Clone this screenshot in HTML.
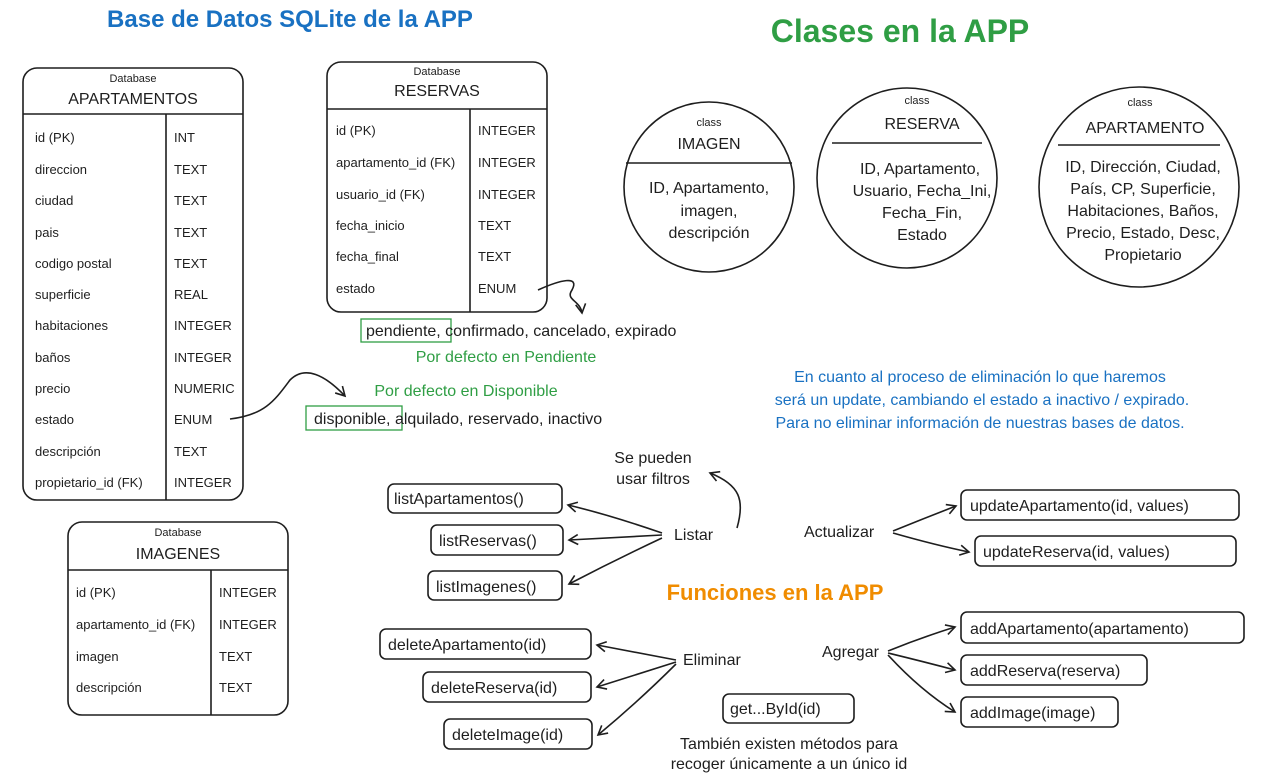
<!DOCTYPE html>
<html><head><meta charset="utf-8"><style>
html,body{margin:0;padding:0;background:#fff;}
svg{display:block;font-family:"Liberation Sans","DejaVu Sans",sans-serif;}
.t{font-size:13px;fill:#1e1e1e;}
.m{font-size:16px;fill:#1e1e1e;}
.s{font-size:11px;fill:#1e1e1e;}
.b{fill:none;stroke:#1e1e1e;stroke-width:1.6;}
</style></head><body>
<svg width="1280" height="775" viewBox="0 0 1280 775" xmlns="http://www.w3.org/2000/svg">
<defs><marker id="a" markerWidth="12" markerHeight="12" refX="10" refY="6" orient="auto" markerUnits="userSpaceOnUse"><path d="M1,1 L10,6 L1,11" fill="none" stroke="#1e1e1e" stroke-width="1.6"/></marker></defs>

<text x="290" y="27" text-anchor="middle" font-size="24" font-weight="bold" fill="#1971c2">Base de Datos SQLite de la APP</text>
<text x="900" y="42" text-anchor="middle" font-size="32" font-weight="bold" fill="#2f9e44">Clases en la APP</text>
<text x="775" y="600" text-anchor="middle" font-size="22" font-weight="bold" fill="#f08c00">Funciones en la APP</text>

<!-- APARTAMENTOS -->
<rect class="b" x="23" y="68" width="220" height="432" rx="14"/>
<line class="b" x1="23" y1="114" x2="243" y2="114"/>
<line class="b" x1="166" y1="114" x2="166" y2="500"/>
<text class="s" x="133" y="82" text-anchor="middle">Database</text>
<text class="m" x="133" y="104" text-anchor="middle">APARTAMENTOS</text>
<g class="t">
<text x="35" y="142">id (PK)</text><text x="174" y="142">INT</text>
<text x="35" y="174">direccion</text><text x="174" y="174">TEXT</text>
<text x="35" y="205">ciudad</text><text x="174" y="205">TEXT</text>
<text x="35" y="237">pais</text><text x="174" y="237">TEXT</text>
<text x="35" y="268">codigo postal</text><text x="174" y="268">TEXT</text>
<text x="35" y="299">superficie</text><text x="174" y="299">REAL</text>
<text x="35" y="330">habitaciones</text><text x="174" y="330">INTEGER</text>
<text x="35" y="362">baños</text><text x="174" y="362">INTEGER</text>
<text x="35" y="393">precio</text><text x="174" y="393">NUMERIC</text>
<text x="35" y="424">estado</text><text x="174" y="424">ENUM</text>
<text x="35" y="456">descripción</text><text x="174" y="456">TEXT</text>
<text x="35" y="487">propietario_id (FK)</text><text x="174" y="487">INTEGER</text>
</g>

<!-- RESERVAS -->
<rect class="b" x="327" y="62" width="220" height="250" rx="14"/>
<line class="b" x1="327" y1="109" x2="547" y2="109"/>
<line class="b" x1="470" y1="109" x2="470" y2="312"/>
<text class="s" x="437" y="75" text-anchor="middle">Database</text>
<text class="m" x="437" y="96" text-anchor="middle">RESERVAS</text>
<g class="t">
<text x="336" y="135">id (PK)</text><text x="478" y="135">INTEGER</text>
<text x="336" y="167">apartamento_id (FK)</text><text x="478" y="167">INTEGER</text>
<text x="336" y="199">usuario_id (FK)</text><text x="478" y="199">INTEGER</text>
<text x="336" y="230">fecha_inicio</text><text x="478" y="230">TEXT</text>
<text x="336" y="261">fecha_final</text><text x="478" y="261">TEXT</text>
<text x="336" y="293">estado</text><text x="478" y="293">ENUM</text>
</g>

<!-- IMAGENES -->
<rect class="b" x="68" y="522" width="220" height="193" rx="14"/>
<line class="b" x1="68" y1="570" x2="288" y2="570"/>
<line class="b" x1="211" y1="570" x2="211" y2="715"/>
<text class="s" x="178" y="536" text-anchor="middle">Database</text>
<text class="m" x="178" y="559" text-anchor="middle">IMAGENES</text>
<g class="t">
<text x="76" y="597">id (PK)</text><text x="219" y="597">INTEGER</text>
<text x="76" y="629">apartamento_id (FK)</text><text x="219" y="629">INTEGER</text>
<text x="76" y="661">imagen</text><text x="219" y="661">TEXT</text>
<text x="76" y="692">descripción</text><text x="219" y="692">TEXT</text>
</g>

<!-- enum notes -->
<path class="b" d="M538,290 C560,280 580,275 572,290 C565,300 580,300 582,313" marker-end="url(#a)"/>
<rect x="361" y="319" width="90" height="23" fill="none" stroke="#2f9e44" stroke-width="1.3"/>
<text x="366" y="336" font-size="16" fill="#1e1e1e">pendiente, confirmado, cancelado, expirado</text>
<text x="506" y="362" text-anchor="middle" font-size="16" fill="#2f9e44">Por defecto en Pendiente</text>
<path class="b" d="M230,419 C265,415 275,400 290,380 C305,365 325,375 345,396" marker-end="url(#a)"/>
<text x="466" y="396" text-anchor="middle" font-size="16" fill="#2f9e44">Por defecto en Disponible</text>
<rect x="306" y="406" width="96" height="24" fill="none" stroke="#2f9e44" stroke-width="1.3"/>
<text x="314" y="424" font-size="16" fill="#1e1e1e">disponible, alquilado, reservado, inactivo</text>

<!-- classes -->
<circle class="b" cx="709" cy="187" r="85"/>
<line class="b" x1="626" y1="163" x2="792" y2="163"/>
<text class="s" x="709" y="126" text-anchor="middle">class</text>
<text class="m" x="709" y="149" text-anchor="middle">IMAGEN</text>
<g class="m" text-anchor="middle"><text x="709" y="193">ID, Apartamento,</text><text x="709" y="216">imagen,</text><text x="709" y="238">descripción</text></g>

<circle class="b" cx="907" cy="178" r="90"/>
<line class="b" x1="832" y1="143" x2="982" y2="143"/>
<text class="s" x="917" y="104" text-anchor="middle">class</text>
<text class="m" x="922" y="129" text-anchor="middle">RESERVA</text>
<g class="m" text-anchor="middle"><text x="920" y="174">ID, Apartamento,</text><text x="922" y="196">Usuario, Fecha_Ini,</text><text x="922" y="218">Fecha_Fin,</text><text x="922" y="240">Estado</text></g>

<circle class="b" cx="1139" cy="187" r="100"/>
<line class="b" x1="1058" y1="145" x2="1220" y2="145"/>
<text class="s" x="1140" y="106" text-anchor="middle">class</text>
<text class="m" x="1145" y="133" text-anchor="middle">APARTAMENTO</text>
<g class="m" text-anchor="middle"><text x="1143" y="172">ID, Dirección, Ciudad,</text><text x="1143" y="194">País, CP, Superficie,</text><text x="1143" y="216">Habitaciones, Baños,</text><text x="1143" y="238">Precio, Estado, Desc,</text><text x="1143" y="260">Propietario</text></g>

<g font-size="16" fill="#1971c2" text-anchor="middle"><text x="980" y="382">En cuanto al proceso de eliminación lo que haremos</text><text x="982" y="405">será un update, cambiando el estado a inactivo / expirado.</text><text x="980" y="428">Para no eliminar información de nuestras bases de datos.</text></g>

<!-- functions -->
<g class="m">
<rect class="b" x="388" y="484" width="174" height="29" rx="6"/><text x="394" y="504">listApartamentos()</text>
<rect class="b" x="431" y="525" width="132" height="30" rx="6"/><text x="439" y="546">listReservas()</text>
<rect class="b" x="428" y="571" width="134" height="29" rx="6"/><text x="436" y="592">listImagenes()</text>
<rect class="b" x="961" y="490" width="278" height="30" rx="6"/><text x="970" y="511">updateApartamento(id, values)</text>
<rect class="b" x="975" y="536" width="261" height="30" rx="6"/><text x="983" y="557">updateReserva(id, values)</text>
<rect class="b" x="380" y="629" width="211" height="30" rx="6"/><text x="388" y="650">deleteApartamento(id)</text>
<rect class="b" x="423" y="672" width="168" height="30" rx="6"/><text x="431" y="693">deleteReserva(id)</text>
<rect class="b" x="444" y="719" width="148" height="30" rx="6"/><text x="452" y="740">deleteImage(id)</text>
<rect class="b" x="961" y="612" width="283" height="31" rx="6"/><text x="970" y="634">addApartamento(apartamento)</text>
<rect class="b" x="961" y="655" width="186" height="30" rx="6"/><text x="970" y="676">addReserva(reserva)</text>
<rect class="b" x="961" y="697" width="157" height="30" rx="6"/><text x="970" y="718">addImage(image)</text>
<rect class="b" x="723" y="694" width="131" height="29" rx="6"/><text x="730" y="714">get...ById(id)</text>
<text x="674" y="540">Listar</text>
<text x="804" y="537">Actualizar</text>
<text x="683" y="665">Eliminar</text>
<text x="822" y="657">Agregar</text>
</g>
<g class="m" text-anchor="middle"><text x="653" y="463">Se pueden</text><text x="653" y="484">usar filtros</text>
<text x="789" y="749">También existen métodos para</text><text x="789" y="769">recoger únicamente a un único id</text></g>

<g class="b">
<path d="M662,533 Q610,515 568,505" marker-end="url(#a)"/>
<path d="M662,535 L569,540" marker-end="url(#a)"/>
<path d="M662,538 Q615,560 569,584" marker-end="url(#a)"/>
<path d="M737,528 C745,500 740,485 710,473" marker-end="url(#a)"/>
<path d="M893,531 Q925,518 956,506" marker-end="url(#a)"/>
<path d="M893,533 Q935,545 969,552" marker-end="url(#a)"/>
<path d="M676,660 L597,645" marker-end="url(#a)"/>
<path d="M676,662 L597,687" marker-end="url(#a)"/>
<path d="M676,664 Q640,700 598,735" marker-end="url(#a)"/>
<path d="M888,651 Q920,638 955,627" marker-end="url(#a)"/>
<path d="M888,653 Q925,662 955,670" marker-end="url(#a)"/>
<path d="M888,655 Q920,690 955,712" marker-end="url(#a)"/>
</g>
</svg>
</body></html>
